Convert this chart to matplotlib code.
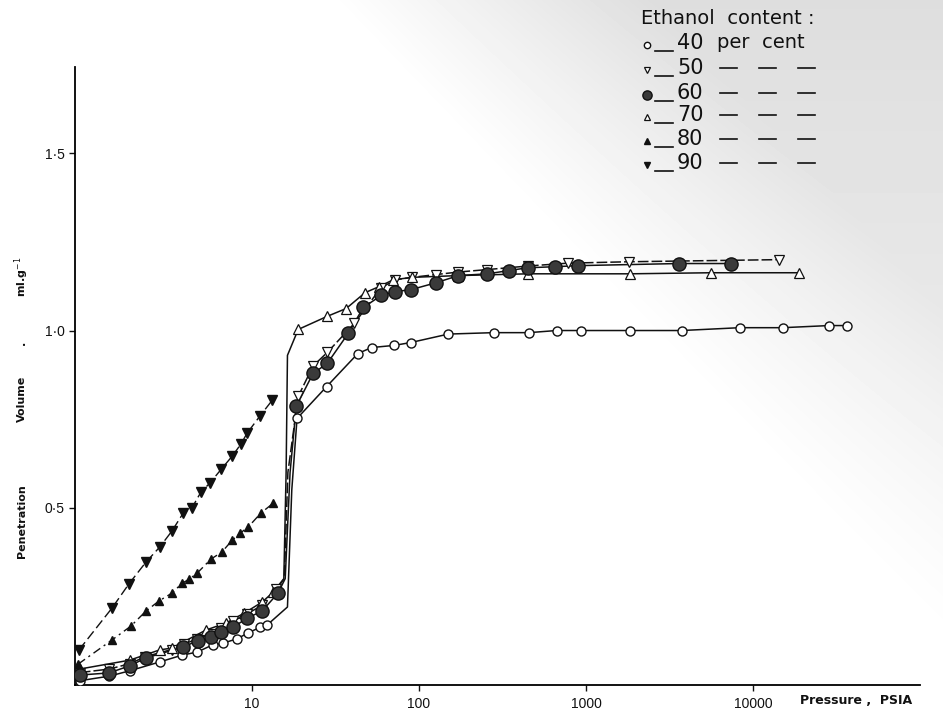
import matplotlib.pyplot as plt
import numpy as np
from matplotlib.lines import Line2D

plt.rcParams['font.family'] = ['Liberation Sans', 'DejaVu Sans']

# ethanol 40 per cent (open circles)
p40 = [0.93, 1.4, 1.85, 2.8, 3.8, 4.7, 5.8, 6.7, 8.1, 9.5, 11.2, 12.3,
       18.6, 28, 43, 52, 71, 89, 150, 280, 455, 667, 930, 1830, 3750,
       8350, 15100, 28600, 36600]
v40 = [0.012, 0.025, 0.04, 0.065, 0.084, 0.093, 0.113, 0.118, 0.13, 0.147,
       0.163, 0.169, 0.752, 0.842, 0.935, 0.952, 0.958, 0.966, 0.99, 0.994,
       0.994, 1.0, 1.0, 1.0, 1.0, 1.008, 1.008, 1.014, 1.014]
knee40_p = [16.3, 17.3]
knee40_v = [0.22, 0.55]

# 50 per cent (open down triangles)
p50 = [0.93, 1.4, 1.85, 2.3, 3.3, 3.9, 4.7, 5.7, 6.5, 7.7, 9.3, 11.5, 14.0,
       18.9, 23.2, 28.2, 41, 59, 72, 91, 127, 172, 257, 450, 776, 1800, 14300]
v50 = [0.035, 0.045, 0.06, 0.08, 0.1, 0.115, 0.13, 0.145, 0.16, 0.18, 0.2,
       0.225, 0.27, 0.814, 0.9, 0.938, 1.02, 1.12, 1.143, 1.15, 1.158, 1.165,
       1.172, 1.182, 1.19, 1.194, 1.2]
knee50_p = [15.6, 16.4]
knee50_v = [0.30, 0.6]

# 60 per cent (filled circles)
p60 = [0.93, 1.39, 1.85, 2.31, 3.86, 4.74, 5.68, 6.52, 7.69, 9.33, 11.5, 14.3,
       18.4, 23.2, 28.2, 37.7, 46.4, 59.4, 72, 89, 127, 172, 257, 344, 447,
       649, 891, 3600, 7400]
v60 = [0.028, 0.034, 0.054, 0.076, 0.107, 0.125, 0.135, 0.149, 0.163, 0.188,
       0.209, 0.259, 0.786, 0.879, 0.907, 0.992, 1.065, 1.099, 1.11, 1.115,
       1.135, 1.155, 1.16, 1.169, 1.177, 1.18, 1.183, 1.189, 1.189]
knee60_p = [15.8, 16.9]
knee60_v = [0.30, 0.6]

# 70 per cent (open up triangles)
p70 = [0.93, 1.85, 2.8, 3.3, 5.3, 7.0, 9.0, 11.5, 13.4,
       18.9, 28.2, 36.6, 47.6, 57.8, 70, 91, 172, 450, 1830, 5600, 18900]
v70 = [0.045, 0.07, 0.099, 0.104, 0.155, 0.175, 0.203, 0.234, 0.262,
       1.003, 1.04, 1.062, 1.107, 1.124, 1.143, 1.15, 1.155, 1.16, 1.16,
       1.163, 1.163]
knee70_p = [15.5, 16.0, 16.3]
knee70_v = [0.30, 0.6, 0.93]

# 80 per cent (filled up triangles)
p80 = [0.91, 1.45, 1.88, 2.31, 2.77, 3.31, 3.81, 4.19, 4.68, 5.67, 6.6,
       7.59, 8.47, 9.46, 11.3, 13.4]
v80 = [0.059, 0.127, 0.166, 0.208, 0.237, 0.259, 0.287, 0.298, 0.315, 0.355,
       0.375, 0.408, 0.428, 0.445, 0.485, 0.513]

# 90 per cent (filled down triangles)
p90 = [0.92, 1.45, 1.83, 2.31, 2.81, 3.31, 3.86, 4.37, 4.94, 5.6, 6.52,
       7.59, 8.59, 9.33, 11.2, 13.2]
v90 = [0.099, 0.217, 0.285, 0.346, 0.39, 0.434, 0.484, 0.5, 0.544, 0.57,
       0.608, 0.645, 0.68, 0.71, 0.76, 0.803]

W, H = 943.0, 713.0
fig = plt.figure(figsize=(9.43, 7.13), dpi=100)

# greyish scan tint in the top right corner (background only)
bg = fig.add_axes([0, 0, 1, 1], zorder=-5)
gx, gy = np.meshgrid(np.arange(W), np.arange(H))
tint = np.clip(((gx - 330) - 0.95 * gy) / 320.0, 0, 1) * 0.13 * (1 - 0.7 * gy / H)
bg.imshow(1 - tint, cmap='gray', vmin=0, vmax=1, aspect='auto',
          extent=(0, W, H, 0), interpolation='bilinear')
bg.set_axis_off()

ax = fig.add_axes([0.0795, 0.0393, 0.896, 0.867])
ax.patch.set_alpha(0)


def curve(p, v, kp, kv):
    pts = sorted(list(zip(p, v)) + list(zip(kp, kv)))
    return [a for a, b in pts], [b for a, b in pts]


ink = '#111111'
styles = {
    '40': dict(marker='o', ms=6.5, mfc='white', mec=ink, mew=1.0),
    '50': dict(marker='v', ms=6.5, mfc='white', mec=ink, mew=0.9),
    '60': dict(marker='o', ms=9.5, mfc='#3a3a3a', mec=ink, mew=1.0),
    '70': dict(marker='^', ms=6.5, mfc='white', mec=ink, mew=0.9),
    '80': dict(marker='^', ms=5.5, mfc=ink, mec=ink),
    '90': dict(marker='v', ms=6.5, mfc=ink, mec=ink),
}

series = [('40', p40, v40, knee40_p, knee40_v, '-'),
          ('50', p50, v50, knee50_p, knee50_v, (0, (7, 2))),
          ('70', p70, v70, knee70_p, knee70_v, '-'),
          ('60', p60, v60, knee60_p, knee60_v, '-')]
for name, p, v, kp, kv, ls in series:
    cx, cy = curve(p, v, kp, kv)
    ax.plot(cx, cy, color=ink, lw=1.1, ls=ls, zorder=2)
    ax.plot(p, v, ls='none', zorder=3, **styles[name])

ax.plot(p80, v80, color=ink, lw=1.0, ls=(0, (6, 3, 1.5, 3)), zorder=2)
ax.plot(p80, v80, ls='none', zorder=3, **styles['80'])
ax.plot(p90, v90, color=ink, lw=1.0, ls=(0, (7, 3)), zorder=2)
ax.plot(p90, v90, ls='none', zorder=3, **styles['90'])

ax.set_xscale('log')
ax.set_xlim(0.87, 1.0e5)
ax.set_ylim(0, 1.744)
ax.spines['top'].set_visible(False)
ax.spines['right'].set_visible(False)
ax.spines['left'].set_linewidth(1.3)
ax.spines['bottom'].set_linewidth(1.3)

ax.set_xticks([10, 100, 1000, 10000])
ax.set_xticklabels(['10', '100', '1000', '10000'])
ax.xaxis.set_minor_locator(plt.NullLocator())
ax.set_yticks([0.5, 1.0, 1.5])
ax.set_yticklabels(['0·5', '1·0', '1·5'])
ax.tick_params(axis='both', direction='out', length=4, width=1, labelsize=10,
               color=ink, labelcolor=ink)
ax.tick_params(axis='x', pad=5)

fig.text(800 / W, 1 - 701 / H, 'Pressure ,  PSIA', fontsize=9,
         fontweight='bold', color=ink, ha='left', va='center',
         family='DejaVu Sans')
# y label pieces, rotated
for txt, yc in (('Penetration', 521), ('Volume', 399), ('.', 343),
                ('ml.g$^{-1}$', 277)):
    fig.text(22 / W, 1 - yc / H, txt, fontsize=8, fontweight='bold',
             color=ink, rotation=90, ha='center', va='center',
             family='DejaVu Sans')

# legend block, top right
fig.text(641 / W, 1 - 19 / H, 'Ethanol  content :', fontsize=14, color=ink,
         ha='left', va='center', family='DejaVu Sans')
rows = [('40', 'per  cent'), ('50', None), ('60', None), ('70', None),
        ('80', None), ('90', None)]
row_y = [43, 68, 93, 115, 139, 163]
for (name, tail), y in zip(rows, row_y):
    st = dict(styles[name])
    st['ms'] = st['ms'] * 0.7
    fig.add_artist(Line2D([647 / W], [1 - (y + 2) / H], ls='none', **st))
    fig.add_artist(Line2D([655 / W, 673 / W], [1 - (y + 8) / H] * 2,
                          color=ink, lw=1.2))
    fig.text(677 / W, 1 - y / H, name, fontsize=15, color=ink, ha='left',
             va='center', family='DejaVu Sans')
    if tail:
        fig.text(717 / W, 1 - y / H, tail, fontsize=14, color=ink, ha='left',
                 va='center', family='DejaVu Sans')
    else:
        for x0 in (720, 759, 798):
            fig.add_artist(Line2D([x0 / W, (x0 + 17) / W], [1 - y / H] * 2,
                                  color=ink, lw=1.2))

fig.savefig('out.png', dpi=100)
